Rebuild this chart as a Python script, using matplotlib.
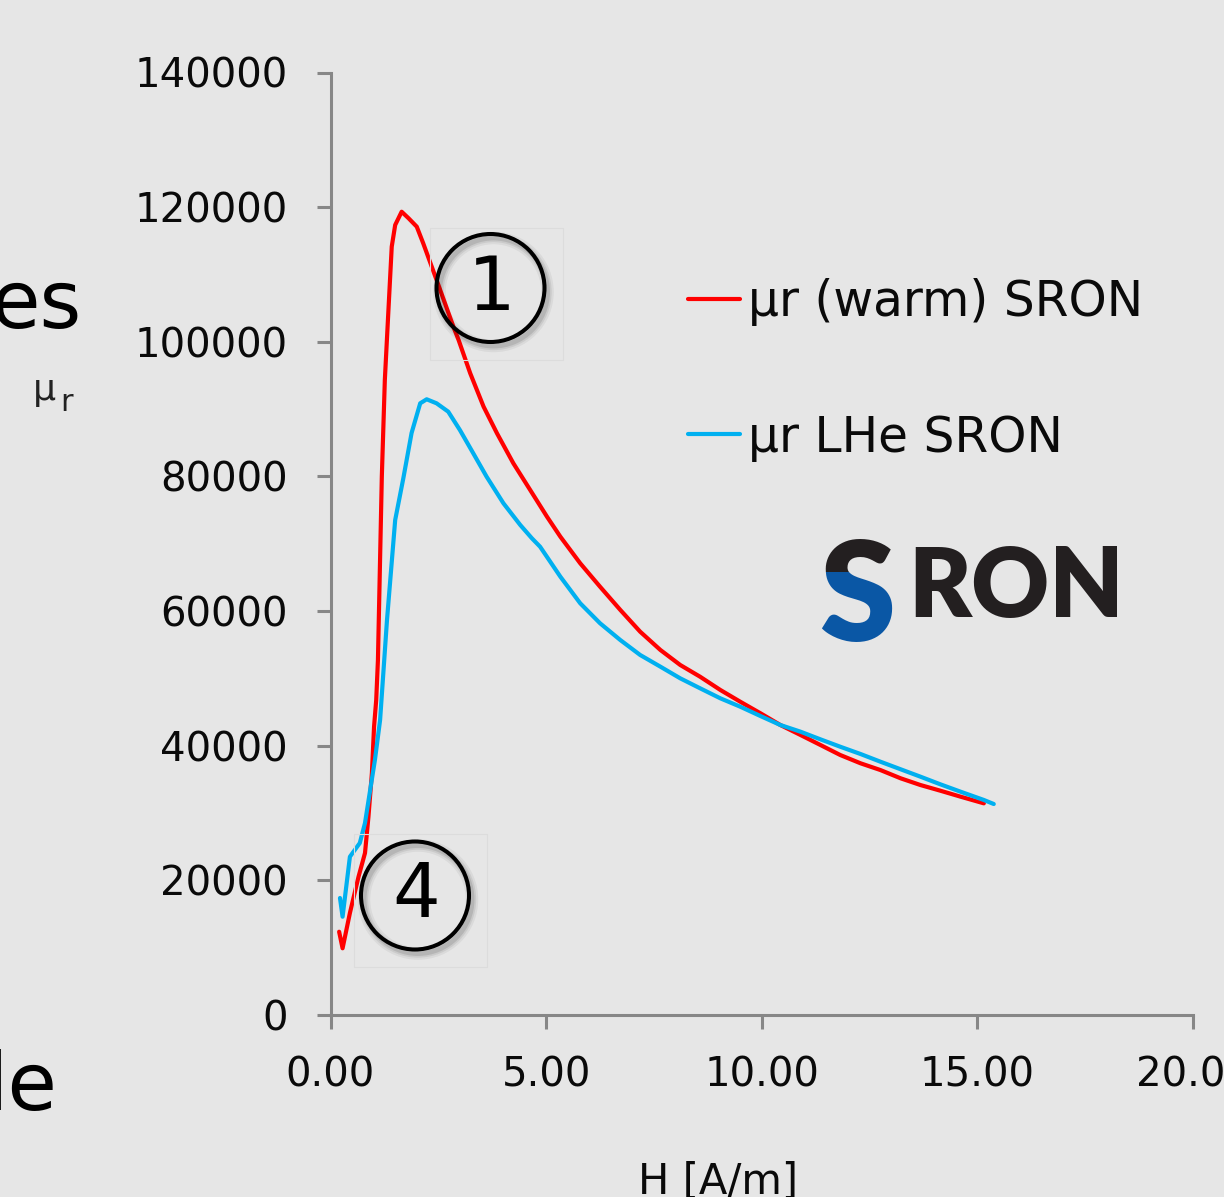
import matplotlib
matplotlib.use("Agg")
import matplotlib.pyplot as plt
from matplotlib.patches import Ellipse, Rectangle
from matplotlib.transforms import Bbox, TransformedBbox


# -----------------------------------------------------------------------------
# Permeability curves mu_r(H), read point by point
# -----------------------------------------------------------------------------

h_warm = [0.20, 0.28, 0.45, 0.65, 0.80, 0.88, 0.96, 1.01, 1.06, 1.10, 1.19, 1.26,
          1.34, 1.42, 1.50, 1.65, 1.81, 2.00, 2.15, 2.46, 2.85, 2.97, 3.24, 3.55,
          3.86, 4.24, 4.63, 5.02, 5.33, 5.79, 6.25, 6.72, 7.18, 7.65, 8.11, 8.57,
          9.04, 9.50, 9.97, 10.43, 10.90, 11.36, 11.82, 12.29, 12.75, 13.22, 13.68,
          14.14, 14.61, 15.15]
mu_warm = [12370, 9910, 15150, 20540, 24060, 29460, 35950, 42830, 46790, 52730,
           79960, 94330, 104280, 114130, 117350, 119320, 118350, 117100, 114630,
           109180, 102240, 100270, 95320, 90360, 86410, 81950, 77990, 74020, 71050,
           67100, 63620, 60170, 56940, 54220, 51990, 50250, 48280, 46540, 44820,
           43080, 41590, 40110, 38620, 37390, 36390, 35160, 34160, 33320, 32430,
           31440]

h_lhe = [0.22, 0.28, 0.45, 0.68, 0.80, 0.92, 1.03, 1.15, 1.31, 1.50, 1.69, 1.88,
         2.08, 2.23, 2.46, 2.73, 3.00, 3.31, 3.62, 4.01, 4.40, 4.67, 4.86, 5.33,
         5.79, 6.25, 6.72, 7.18, 7.65, 8.11, 8.57, 9.04, 9.50, 9.97, 10.43, 10.90,
         11.36, 11.82, 12.29, 12.75, 13.22, 13.68, 14.14, 14.61, 15.15, 15.38]
mu_lhe = [17380, 14600, 23510, 25550, 28520, 33420, 37880, 43820, 58670, 73530,
          79770, 86450, 90860, 91460, 90860, 89620, 86900, 83440, 79960, 76010,
          72790, 70810, 69560, 65110, 61160, 58190, 55700, 53480, 51740, 50010,
          48530, 47040, 45800, 44410, 43080, 42080, 40950, 39850, 38770, 37630,
          36500, 35400, 34270, 33170, 31940, 31340]

series_labels = ["\u03bcr (warm) SRON", "\u03bcr LHe SRON"]
series_colors = ["#ff0000", "#00b0f0"]

x_ticks = [0, 5, 10, 15, 20]
y_ticks = [0, 20000, 40000, 60000, 80000, 100000, 120000, 140000]
x_label = "H [A/m]"
badges = ["1", "4"]

# -----------------------------------------------------------------------------
# Figure layout (pixel based, 100 dpi)
# -----------------------------------------------------------------------------

W, H = 1224, 1197
BG = "#e6e6e6"
AXIS_GRAY = "#878787"
INK = "#0a0a0a"

plt.rcParams["font.family"] = ["DejaVu Sans"]

fig = plt.figure(figsize=(W / 100, H / 100), dpi=100, facecolor=BG)


def fx(x):
    return x / W


def fy(y):
    return 1 - y / H


ax = fig.add_axes([fx(330.5), fy(1015), (1193 - 330.5) / W, (1015 - 72.5) / H])
ax.set_facecolor(BG)

for h, mu, lab, col in zip([h_warm, h_lhe], [mu_warm, mu_lhe], series_labels, series_colors):
    ax.plot(h, mu, color=col, lw=3.0, label=lab, solid_joinstyle="round",
            solid_capstyle="round", clip_on=False)

ax.set_xlim(0, 20)
ax.set_ylim(0, 140000)
ax.set_xticks(x_ticks)
ax.set_yticks(y_ticks)
ax.set_xticklabels([f"{v:.2f}" for v in x_ticks])
ax.set_yticklabels([f"{v:d}" for v in y_ticks])

for side in ["top", "right"]:
    ax.spines[side].set_visible(False)
for side in ["left", "bottom"]:
    ax.spines[side].set_color(AXIS_GRAY)
    ax.spines[side].set_linewidth(2.2)

ax.tick_params(axis="both", direction="out", length=10, width=2.2,
               color=AXIS_GRAY, labelsize=29, labelcolor=INK)
ax.tick_params(axis="y", pad=21)
ax.tick_params(axis="x", pad=19)

ax.set_xlabel(x_label, fontsize=30, color=INK, va="top")
ax.xaxis.set_label_coords(0.449, -0.155)

leg = ax.legend(loc="upper left", bbox_to_anchor=(fx(688), fy(278)),
                bbox_transform=fig.transFigure, frameon=False, fontsize=35,
                handlelength=1.07, handletextpad=0.17, labelspacing=1.8,
                borderpad=0, borderaxespad=0)
for t in leg.get_texts():
    t.set_color(INK)

# -----------------------------------------------------------------------------
# Numbered callouts with a soft drop shadow
# -----------------------------------------------------------------------------


def badge(cx, cy, text, box):
    r = 54
    for lw, a in [(9, 0.05), (6, 0.07), (3.5, 0.10)]:
        fig.add_artist(Ellipse((fx(cx + 3), fy(cy + 4)), 2 * r / W, 2 * r / H,
                               transform=fig.transFigure, fill=False,
                               edgecolor="#000000", lw=lw, alpha=a))
    x0, y0, x1, y1 = box
    fig.add_artist(Rectangle((fx(x0), fy(y1)), (x1 - x0) / W, (y1 - y0) / H,
                             transform=fig.transFigure, fill=False,
                             edgecolor="#dcdcdc", lw=0.8))
    fig.add_artist(Ellipse((fx(cx), fy(cy)), 2 * r / W, 2 * r / H,
                           transform=fig.transFigure, fill=False,
                           edgecolor="#000000", lw=2.9))
    fig.text(fx(cx + 1), fy(cy + 1), text, fontsize=54, color="#000000",
             ha="center", va="center")


badge(490.5, 288, badges[0], (430, 228, 563, 360))
badge(415, 895.5, badges[1], (354, 834, 487, 967))

# -----------------------------------------------------------------------------
# SRON logo
# -----------------------------------------------------------------------------

LOGO_DARK = "#231f20"
LOGO_BLUE = "#0a57a5"
LOGO_FONT = ["Lato", "DejaVu Sans"]

s_top = fig.text(fx(857.5), fy(641), "S", fontsize=99, fontweight="heavy",
                 family=LOGO_FONT, color=LOGO_DARK, ha="center", va="baseline")
s_bot = fig.text(fx(857.5), fy(641), "S", fontsize=99, fontweight="heavy",
                 family=LOGO_FONT, color=LOGO_BLUE, ha="center", va="baseline")
split = fy(572)
s_top.set_clip_box(TransformedBbox(Bbox([[0, split], [1, 1]]), fig.transFigure))
s_bot.set_clip_box(TransformedBbox(Bbox([[0, 0], [1, split]]), fig.transFigure))

fig.text(fx(908), fy(617), "RON", fontsize=69, fontweight="heavy",
         family=LOGO_FONT, color=LOGO_DARK, ha="left", va="baseline")

# -----------------------------------------------------------------------------
# Slide text running in from the left edge
# -----------------------------------------------------------------------------

fig.text(fx(82), fy(328), "es", fontsize=58, color="#000000", ha="right", va="baseline")
fig.text(fx(57.5), fy(1110), "le", fontsize=58, color="#000000", ha="right", va="baseline")
fig.text(fx(33), fy(400), "\u03bc", fontsize=26, color="#222222", ha="left", va="baseline")
fig.text(fx(60), fy(411), "r", fontsize=22, color="#222222", ha="left", va="baseline")

fig.savefig("out.png", dpi=100, facecolor=BG)
